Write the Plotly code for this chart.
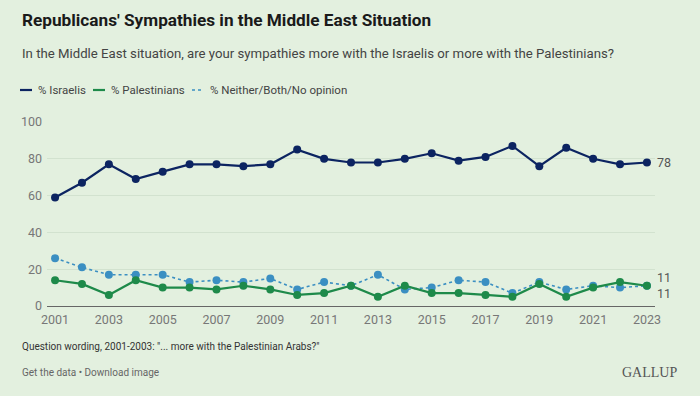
import plotly.graph_objects as go

years = list(range(2001, 2024))
israelis = [59, 67, 77, 69, 73, 77, 77, 76, 77, 85, 80, 78, 78, 80, 83, 79, 81, 87, 76, 86, 80, 77, 78]
palestinians = [14, 12, 6, 14, 10, 10, 9, 11, 9, 6, 7, 11, 5, 11, 7, 7, 6, 5, 12, 5, 10, 13, 11]
neither = [26, 21, 17, 17, 17, 13, 14, 13, 15, 9, 13, 11, 17, 9, 10, 14, 13, 7, 13, 9, 11, 10, 11]
x_ticks = list(range(2001, 2024, 2))
y_ticks = [0, 20, 40, 60, 80, 100]

names = ["% Israelis", "% Palestinians", "% Neither/Both/No opinion"]
colors = ["#0c2461", "#1e8a4a", "#3b8fc2"]
dashes = ["solid", "solid", "dot"]
series = [israelis, palestinians, neither]

BG = "#e3f0df"
W, H = 700, 396
L, R, T, B = 47, 45, 122, 90
PW, PH = W - L - R, H - T - B

def px(x):
    return (x - L) / PW

def py(y):
    return (H - B - y) / PH

fig = go.Figure()
for name, col, dash, vals in reversed(list(zip(names, colors, dashes, series))):
    fig.add_trace(go.Scatter(
        x=years, y=vals, name=name, mode="lines+markers",
        line=dict(color=col, width=2.2 if dash == "solid" else 1.6, dash=dash),
        marker=dict(color=col, size=8),
        cliponaxis=False, showlegend=False, hoverinfo="skip"))

ann = []
# Title / subtitle
ann.append(dict(x=px(20), y=py(20), xref="paper", yref="paper", xanchor="left", yanchor="middle",
                text="<b>Republicans' Sympathies in the Middle East Situation</b>", showarrow=False,
                font=dict(family="Roboto", size=17.2, color="#1a1a1a")))
ann.append(dict(x=px(20), y=py(53), xref="paper", yref="paper", xanchor="left", yanchor="middle",
                text="In the Middle East situation, are your sympathies more with the Israelis or more with the Palestinians?",
                showarrow=False, font=dict(family="Roboto", size=13.2, color="#444444")))

# Legend
leg_x = [20, 93, 192]
shapes = []
for lx, name, col, dash in zip(leg_x, names, colors, dashes):
    shapes.append(dict(type="line", xref="paper", yref="paper",
                       x0=px(lx), x1=px(lx + 12), y0=py(90), y1=py(90),
                       line=dict(color=col, width=2.2 if dash == "solid" else 1.6, dash=dash)))
    ann.append(dict(x=px(lx + 16), y=py(90), xref="paper", yref="paper", xanchor="left", yanchor="middle",
                    text=name, showarrow=False, font=dict(family="Roboto", size=11.5, color="#444444")))

# End labels
ann.append(dict(x=years[-1], y=israelis[-1], xref="x", yref="y", xanchor="left", yanchor="middle",
                xshift=8, text=str(israelis[-1]), showarrow=False, font=dict(family="Roboto", size=12.5, color="#555555")))
ann.append(dict(x=years[-1], y=neither[-1], xref="x", yref="y", xanchor="left", yanchor="middle",
                xshift=8, yshift=8, text=str(neither[-1]), showarrow=False, font=dict(family="Roboto", size=12.5, color="#555555")))
ann.append(dict(x=years[-1], y=palestinians[-1], xref="x", yref="y", xanchor="left", yanchor="middle",
                xshift=8, yshift=-8, text=str(palestinians[-1]), showarrow=False, font=dict(family="Roboto", size=12.5, color="#555555")))

# Footer
ann.append(dict(x=px(20), y=py(346), xref="paper", yref="paper", xanchor="left", yanchor="middle",
                text="Question wording, 2001-2003: \"... more with the Palestinian Arabs?\"",
                showarrow=False, font=dict(family="Roboto", size=10, color="#333333")))
ann.append(dict(x=px(20), y=py(372), xref="paper", yref="paper", xanchor="left", yanchor="middle",
                text="Get the data • Download image",
                showarrow=False, font=dict(family="Roboto", size=10, color="#666666")))
ann.append(dict(x=px(679), y=py(372), xref="paper", yref="paper", xanchor="right", yanchor="middle",
                text="GALLUP", showarrow=False,
                font=dict(family="Liberation Serif", size=14, color="#555555")))

fig.update_layout(
    width=W, height=H, paper_bgcolor=BG, plot_bgcolor=BG,
    margin=dict(l=L, r=R, t=T, b=B),
    annotations=ann, shapes=shapes,
    xaxis=dict(range=[2000.7, 2023.3], tickvals=x_ticks, showgrid=False, zeroline=False,
               showline=False, ticks="", automargin=False, ticklabelstandoff=4,
               tickfont=dict(family="Roboto", size=12.5, color="#777777")),
    yaxis=dict(range=[0, 100], tickvals=y_ticks, showgrid=True, gridcolor="#d2e2cf", gridwidth=1,
               zeroline=True, zerolinecolor="#666666", zerolinewidth=1.2, ticks="",
               automargin=False, ticklabelstandoff=4,
               tickfont=dict(family="Roboto", size=12.5, color="#777777")),
)
fig.write_html("out.html", config={"displayModeBar": False},
               post_script="document.body.style.margin='0';document.body.style.background='%s';" % BG)
